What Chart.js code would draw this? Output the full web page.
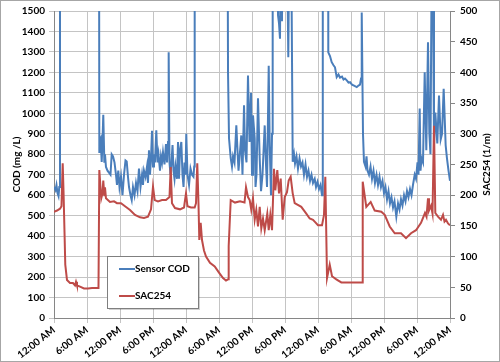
<!DOCTYPE html>
<html>
<head>
<meta charset="utf-8">
<script src="https://cdn.jsdelivr.net/npm/chart.js@4/dist/chart.umd.min.js"></script>
<style>
  html, body { margin: 0; padding: 0; background: #fff; }
  canvas { display: block; }
</style>
</head>
<body>
<canvas id="chart" width="500" height="362"></canvas>
<script>
// x axis labels, one every 6 hours over 3 days
const timeLabels = ['12:00 AM', '6:00 AM', '12:00 PM', '6:00 PM', '12:00 AM', '6:00 AM', '12:00 PM',
  '6:00 PM', '12:00 AM', '6:00 AM', '12:00 PM', '6:00 PM', '12:00 AM'];

// Sensor COD (mg/L), hours since start; values above 1500 run off the top of the plot
const codHours = [0, 0.27, 0.45, 0.64, 0.82, 0.96, 1.09, 4, 8.15, 8.24, 8.36, 8.49, 8.67, 8.82, 8.96, 9.15, 9.27, 9.45, 9.73, 10,
  10.27, 10.49, 10.73, 11, 11.27, 11.45, 11.69, 11.91, 12.18, 12.45, 12.73, 13, 13.22, 13.45, 13.64, 13.91, 14.13, 14.36, 14.64, 14.91,
  15.18, 15.45, 15.73, 16, 16.18, 16.36, 16.64, 16.91, 17.09, 17.27, 17.45, 17.64, 17.82, 18, 18.18, 18.36, 18.6, 18.82, 19, 19.27,
  19.45, 19.64, 19.82, 20.09, 20.36, 20.55, 20.73, 20.85, 21, 21.18, 21.36, 21.55, 21.73, 21.91, 22.09, 22.36, 22.55, 22.73, 22.91, 23.15,
  23.36, 23.55, 23.73, 23.91, 24.05, 24.27, 24.55, 24.82, 25.09, 25.36, 25.49, 25.58, 28, 31.45, 31.64, 31.82, 32.13, 32.36, 32.55, 32.82,
  33.15, 33.36, 33.55, 33.73, 34.05, 34.27, 34.55, 34.73, 35, 35.27, 35.55, 35.82, 36, 36.18, 36.49, 36.64, 36.82, 37.09, 37.4, 37.64,
  37.91, 38.31, 38.55, 38.73, 39.04, 39.22, 39.45, 39.64, 39.76, 40.5, 40.73, 40.91, 41.09, 41.27, 41.45, 41.64, 42.31, 42.6, 42.82, 43.09,
  43.4, 43.64, 43.82, 44.09, 44.36, 44.64, 44.91, 45.18, 45.45, 45.73, 46, 46.27, 46.55, 46.82, 47.09, 47.4, 47.64, 47.91, 48.18, 48.45,
  48.73, 48.87, 49.82, 49.87, 50.18, 50.49, 50.82, 51.09, 51.4, 51.73, 52, 52.36, 52.64, 52.91, 53.27, 53.55, 53.82, 54.18, 54.55, 55.04,
  55.36, 55.64, 55.82, 55.95, 56.18, 56.36, 56.64, 56.82, 57, 57.27, 57.55, 57.82, 58.09, 58.36, 58.64, 58.91, 59.18, 59.45, 59.73, 60,
  60.27, 60.55, 60.82, 61.09, 61.36, 61.64, 61.91, 62.24, 62.55, 62.82, 63.09, 63.36, 63.64, 63.91, 64.18, 64.45, 64.73, 65, 65.27, 65.58,
  65.82, 66.09, 66.27, 66.49, 66.64, 66.82, 67.09, 67.4, 67.69, 68, 68.24, 68.45, 68.73, 68.91, 69.09, 69.33, 69.69, 70, 70.31, 70.55,
  70.85, 71.21, 71.45, 71.73, 72];
const codValues = [640, 625, 650, 610, 595, 640, 3000, 3200, 3000, 811, 870, 878, 763, 860, 993, 763, 800, 738, 720, 710,
  700, 800, 790, 760, 700, 650, 720, 640, 690, 600, 700, 770, 765, 690, 640, 600, 576, 640, 600, 660,
  620, 730, 640, 700, 650, 720, 690, 740, 660, 820, 700, 780, 915, 740, 800, 760, 917, 760, 800, 720,
  790, 760, 810, 750, 850, 760, 860, 1298, 760, 700, 760, 845, 720, 680, 740, 680, 860, 680, 820, 860,
  700, 640, 760, 700, 900, 700, 650, 730, 700, 690, 740, 3000, 3200, 3000, 1201, 878, 781, 740, 790, 760,
  941, 820, 720, 780, 892, 700, 1039, 820, 760, 1185, 860, 1100, 700, 990, 878, 640, 700, 1073, 781, 620,
  700, 941, 747, 640, 1233, 844, 600, 900, 3000, 2500, 1480, 1440, 1365, 2000, 1450, 2000, 2000, 1274, 2000, 2000,
  763, 800, 755, 790, 730, 780, 740, 760, 700, 750, 690, 720, 670, 700, 660, 680, 640, 665, 630, 650,
  600, 3000, 3000, 1298, 1280, 1250, 1235, 1225, 1177, 1190, 1175, 1180, 1165, 1170, 1160, 1150, 1152, 1140, 1135, 1128,
  1136, 1140, 1170, 1493, 900, 763, 740, 790, 720, 700, 740, 680, 720, 660, 700, 650, 690, 640, 670, 610,
  640, 580, 620, 560, 590, 540, 570, 495, 560, 530, 580, 550, 600, 570, 620, 590, 630, 600, 650, 700,
  680, 760, 700, 1024, 720, 781, 760, 1201, 820, 1347, 905, 800, 2000, 1600, 844, 1004, 853, 1087, 873, 900,
  1120, 844, 780, 720, 670];

// SAC254 (1/m), hours since start
const sacHours = [0, 0.55, 1.09, 1.36, 1.58, 1.73, 1.91, 2.05, 2.36, 2.91, 3.45, 3.82, 4, 4.18, 4.73, 5.45, 6.18, 6.91, 7.45, 8.09,
  8.24, 8.45, 8.6, 8.82, 8.96, 9.15, 9.27, 9.45, 10.18, 10.91, 11.45, 12.18, 12.91, 13.82, 14.73, 15.64, 16.36, 17.09, 17.64, 18,
  18.31, 18.91, 19.64, 20.36, 21, 21.22, 21.45, 22, 22.91, 23.64, 24, 24.27, 24.91, 25.58, 25.82, 26.05, 26.27, 26.42, 26.67, 26.91,
  27.27, 27.64, 28.36, 29.22, 30, 30.73, 31.27, 31.64, 31.76, 32.13, 32.91, 33.82, 34.64, 34.91, 35.27, 35.58, 35.87, 36.18, 36.49, 36.78,
  37.09, 37.4, 37.69, 38, 38.31, 38.78, 39.04, 39.33, 39.64, 40, 40.24, 40.6, 40.91, 41.22, 41.58, 41.95, 42.36, 42.67, 43.03, 43.4,
  43.76, 44.96, 45.87, 46.49, 47.09, 47.4, 48, 48.73, 49.09, 49.33, 49.64, 50.13, 50.55, 51.33, 52.24, 53.82, 56, 56.13, 56.78, 57.58,
  58.31, 59.51, 60.13, 61.04, 61.95, 63.09, 64, 64.91, 65.82, 66.73, 67.45, 67.73, 68, 68.18, 68.55, 68.82, 69.09, 69.33, 69.82, 70.36,
  70.73, 71, 71.27, 71.64, 72];
const sacValues = [173, 175, 178, 182, 252, 207, 140, 87, 62, 57, 57, 53, 59, 53, 51, 48, 48, 49, 49, 49,
  241, 213, 195, 203, 224, 200, 213, 195, 189, 190, 187, 187, 182, 176, 168, 164, 163, 165, 177, 214,
  192, 190, 192, 192, 197, 246, 187, 179, 177, 180, 203, 182, 180, 180, 187, 252, 187, 127, 155, 127,
  110, 100, 90, 84, 74, 65, 61, 63, 117, 192, 188, 190, 188, 213, 197, 192, 176, 195, 160, 176,
  149, 181, 146, 162, 143, 170, 143, 168, 143, 243, 208, 241, 203, 227, 160, 197, 205, 224, 230, 203,
  187, 181, 170, 162, 160, 157, 151, 151, 168, 230, 65, 87, 68, 63, 58, 58, 58, 222, 181, 189,
  175, 173, 168, 149, 138, 138, 130, 138, 143, 155, 171, 165, 195, 175, 183, 170, 313, 171, 165, 160,
  168, 157, 160, 154, 151];

const codPoints = codHours.map((h, i) => ({ x: h, y: codValues[i] }));
const sacPoints = sacHours.map((h, i) => ({ x: h, y: sacValues[i] }));

const FONT = 'Lato, "Liberation Sans", sans-serif';
const gridColor = '#c4c4c4';
const axisColor = '#868686';

// frame, axis titles and the legend box inside the plot
const extras = {
  id: 'extras',
  afterDraw(chart) {
    const ctx = chart.ctx;
    const area = chart.chartArea;
    const midY = (area.top + area.bottom) / 2;
    ctx.save();
    ctx.strokeStyle = '#a6a6a6';
    ctx.lineWidth = 1;
    ctx.strokeRect(0.5, 0.5, chart.width - 1, chart.height - 1);

    ctx.fillStyle = '#000';
    ctx.font = 'bold 10px ' + FONT;
    ctx.textAlign = 'center';
    ctx.textBaseline = 'middle';
    ctx.save();
    ctx.translate(17, midY);
    ctx.rotate(-Math.PI / 2);
    ctx.fillText('COD (mg /L)', 0, 0);
    ctx.restore();
    ctx.save();
    ctx.translate(487, midY);
    ctx.rotate(-Math.PI / 2);
    ctx.fillText('SAC254 (1/m)', 0, 0);
    ctx.restore();

    // legend
    const bx = 107, by = 256, bw = 91, bh = 52;
    ctx.fillStyle = 'rgba(0,0,0,0.18)';
    ctx.fillRect(bx + 2, by + 2, bw, bh);
    ctx.fillStyle = '#fff';
    ctx.fillRect(bx, by, bw, bh);
    ctx.strokeStyle = '#7f7f7f';
    ctx.strokeRect(bx + 0.5, by + 0.5, bw, bh);
    ctx.textAlign = 'left';
    const rows = [269, 296];
    chart.data.datasets.forEach((ds, i) => {
      ctx.strokeStyle = ds.borderColor;
      ctx.lineWidth = 2;
      ctx.beginPath();
      ctx.moveTo(119, rows[i]);
      ctx.lineTo(135, rows[i]);
      ctx.stroke();
      ctx.fillStyle = '#000';
      ctx.fillText(ds.label, 135, rows[i]);
    });
    ctx.restore();
  }
};

const ctx = document.getElementById('chart').getContext('2d');
const myChart = new Chart(ctx, {
  type: 'line',
  data: {
    datasets: [{
      label: 'Sensor COD',
      data: codPoints,
      yAxisID: 'y',
      borderColor: '#4a7ebb',
      borderWidth: 2,
      pointRadius: 0,
      tension: 0,
      order: 1
    }, {
      label: 'SAC254',
      data: sacPoints,
      yAxisID: 'y1',
      borderColor: '#be4b48',
      borderWidth: 2,
      pointRadius: 0,
      tension: 0,
      order: 0
    }]
  },
  options: {
    responsive: false,
    animation: false,
    layout: { padding: { top: 10, left: 0, right: 0, bottom: 0 } },
    plugins: {
      legend: { display: false },
      tooltip: { enabled: false }
    },
    scales: {
      x: {
        type: 'linear',
        min: 0,
        max: 72,
        afterFit(s) { s.height = 44; },
        grid: { color: gridColor, tickLength: 5 },
        border: { color: axisColor },
        ticks: {
          stepSize: 6,
          autoSkip: false,
          minRotation: 38,
          maxRotation: 38,
          padding: 1,
          color: '#000',
          font: { family: FONT, size: 10, weight: 'bold' },
          callback: (v) => timeLabels[v / 6]
        }
      },
      y: {
        position: 'left',
        min: 0,
        max: 1500,
        afterFit(s) { s.width = 54; },
        grid: { color: gridColor, tickLength: 5 },
        border: { color: axisColor },
        ticks: {
          stepSize: 100,
          padding: 4,
          color: '#000',
          font: { family: FONT, size: 10, weight: 'bold' },
          callback: (v) => String(v)
        }
      },
      y1: {
        position: 'right',
        min: 0,
        max: 500,
        afterFit(s) { s.width = 50; },
        grid: { drawOnChartArea: false, color: axisColor, tickLength: 5 },
        border: { color: axisColor },
        ticks: {
          stepSize: 50,
          padding: 5,
          color: '#000',
          font: { family: FONT, size: 10, weight: 'bold' },
          callback: (v) => String(v)
        }
      }
    }
  },
  plugins: [extras]
});
</script>
</body>
</html>
